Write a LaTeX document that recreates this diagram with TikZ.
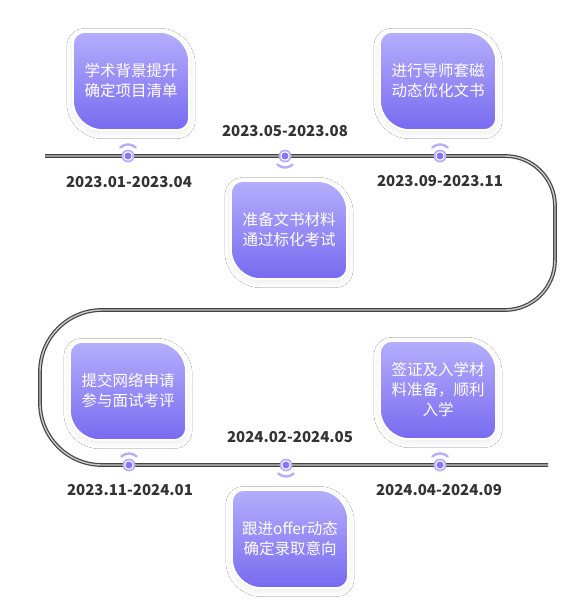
\documentclass[tikz,border=0pt]{standalone}
\usepackage{fontspec}
\setmainfont{Noto Sans CJK SC}
\usetikzlibrary{calc,shadows.blur,backgrounds}
\definecolor{boxtop}{HTML}{B5AEFC}
\definecolor{boxbot}{HTML}{786AF0}
\definecolor{ringlt}{HTML}{B8AFFB}
\definecolor{ringdk}{HTML}{8678F4}
\definecolor{trackc}{HTML}{444444}
\definecolor{trackin}{HTML}{C8C8C8}
\definecolor{datec}{HTML}{333333}
\newcommand\leafbg[1]{\path[leaf] ($(#1.north west)+(12pt,0)$) -- ($(#1.north east)+(-30pt,0)$) arc[start angle=90,end angle=0,radius=30pt] -- ($(#1.south east)+(0,12pt)$) arc[start angle=0,end angle=-90,radius=12pt] -- ($(#1.south west)+(30pt,0)$) arc[start angle=270,end angle=180,radius=30pt] -- ($(#1.north west)+(0,-12pt)$) arc[start angle=180,end angle=90,radius=12pt] -- cycle;}
\tikzset{
  leafnode/.style={rectangle, minimum width=116pt, minimum height=98pt, inner sep=0pt, align=center, text=white, font=\fontsize{15.5}{20}\selectfont},
  leaf/.style={top color=boxtop, bottom color=boxbot, draw=white, line width=2pt,
    blur shadow={shadow xshift=0pt, shadow yshift=-2.5pt, shadow blur radius=6pt, shadow blur steps=14, shadow opacity=9}},
  track/.style={draw=trackc, line width=1.2pt, double=trackin, double distance=1.4pt},
  ring/.style={circle, minimum size=13pt, inner sep=0pt, fill=ringlt,
    path picture={\fill[white] (path picture bounding box.center) circle (4.7pt);
                  \fill[ringdk] (path picture bounding box.center) circle (3.5pt);}},
  ringarc/.style={draw=ringlt, line width=2.5pt, line cap=round},
  datelbl/.style={font=\bfseries\fontsize{15}{18}\selectfont, text=datec, inner sep=0pt}
}
\begin{document}
\begin{tikzpicture}[x=1pt,y=1pt]
\begin{pgfonlayer}{background}
\fill[white] (0,0) rectangle (587,-615);
\end{pgfonlayer}
\useasboundingbox (0,0) rectangle (587,-615);
% track
\coordinate (t0) at (45,-156);
\coordinate (t1) at (548,-465);
\draw[track] (t0) -- (505,-156) arc[start angle=90,end angle=0,radius=50pt] -- (555,-260) arc[start angle=0,end angle=-90,radius=50pt] -- (102,-310) arc[start angle=90,end angle=180,radius=62pt] -- (40,-403) arc[start angle=180,end angle=270,radius=62pt] -- (t1);
% markers
\node[ring] (m1) at (128,-156) {};
\node[ring] (m2) at (285,-156) {};
\node[ring] (m3) at (440,-156) {};
\node[ring] (m4) at (129,-465) {};
\node[ring] (m5) at (286,-465) {};
\node[ring] (m6) at (440,-465) {};
\draw[ringarc] ($(m1)+(48:11.5pt)$) arc[start angle=48,end angle=132,radius=11.5pt];
\draw[ringarc] ($(m3)+(48:11.5pt)$) arc[start angle=48,end angle=132,radius=11.5pt];
\draw[ringarc] ($(m4)+(48:11.5pt)$) arc[start angle=48,end angle=132,radius=11.5pt];
\draw[ringarc] ($(m6)+(48:11.5pt)$) arc[start angle=48,end angle=132,radius=11.5pt];
\draw[ringarc] ($(m2)+(-48:11.5pt)$) arc[start angle=-48,end angle=-132,radius=11.5pt];
\draw[ringarc] ($(m5)+(-48:11.5pt)$) arc[start angle=-48,end angle=-132,radius=11.5pt];
% dates
\node[datelbl] (d1) at (129,-182) {2023.01-2023.04};
\node[datelbl] (d2) at (285,-131) {2023.05-2023.08};
\node[datelbl] (d3) at (440,-181) {2023.09-2023.11};
\node[datelbl] (d4) at (130,-490) {2023.11-2024.01};
\node[datelbl] (d5) at (290,-437) {2024.02-2024.05};
\node[datelbl] (d6) at (439,-490) {2024.04-2024.09};
% boxes
\node[leafnode] (b1) at (131,-81) {学术背景提升\\确定项目清单};
\node[leafnode] (b2) at (289,-230) {准备文书材料\\通过标化考试};
\node[leafnode] (b3) at (438,-81) {进行导师套磁\\动态优化文书};
\node[leafnode] (b4) at (128,-391) {提交网络申请\\参与面试考评};
\node[leafnode] (b5) at (290,-539) {跟进offer动态\\确定录取意向};
\node[leafnode] (b6) at (438,-390) {签证及入学材\\料准备，顺利\\入学};
\begin{pgfonlayer}{background}
\leafbg{b1}\leafbg{b2}\leafbg{b3}\leafbg{b4}\leafbg{b5}\leafbg{b6}
\end{pgfonlayer}
\end{tikzpicture}
\end{document}
